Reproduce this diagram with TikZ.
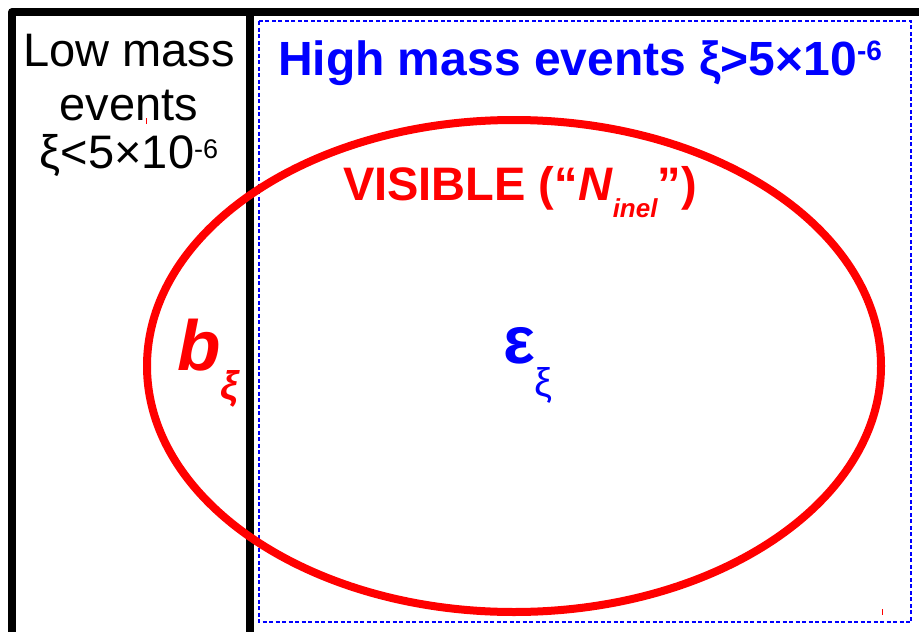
\documentclass[tikz,border=0pt]{standalone}
\usepackage{fontspec}
\setmainfont{Liberation Sans}
\definecolor{pblue}{RGB}{0,0,255}
\definecolor{pred}{RGB}{255,0,0}
\newcommand{\fsz}[1]{\fontsize{#1}{#1}\selectfont}
\begin{document}
\begin{tikzpicture}[x=1pt,y=-1pt,
  frame/.style={line width=8pt,line join=round,line cap=round,black},
  hbox/.style={draw=pblue,line width=1.2pt,dash pattern=on 4pt off 2.5pt},
  visible/.style={draw=pred,line width=8pt},
  lbl/.style={inner sep=0pt,outer sep=0pt}]
\useasboundingbox (0,0) rectangle (919,632);
\fill[white] (0,0) rectangle (919,632);
% frame
\draw[frame] (12,645) -- (12,12) -- (935,12);
\draw[frame] (250,12) -- (250,645);
% high mass region
\draw[hbox] (259,21) rectangle (911,622);
% visible ellipse
\draw[visible] (514,366) ellipse [x radius=367pt, y radius=246pt];
% tiny red marks
\draw[pred,line width=1pt] (146,118) -- (146,124);
\draw[pred,line width=1pt] (882,609) -- (882,615);
% low mass text
\node[lbl,anchor=base] (low1) at (129,66) {\fsz{47}Low mass};
\node[lbl,anchor=base] (low2) at (129,120) {\fsz{47}events};
\node[lbl,anchor=base] (low3) at (129,168) {\fsz{47}ξ<5×10\raisebox{10pt}{\fsz{27}-6}};
% high mass title
\node[lbl,anchor=base west,text=pblue] (high) at (278,75)
  {\fsz{48}\bfseries High mass events ξ>5×10\raisebox{15pt}{\fsz{28}\bfseries -6}};
% visible label
\node[lbl,anchor=base west,text=pred] (vis) at (343,200)
  {\fsz{47}\bfseries VISIBLE (“\textit{N}\raisebox{-17pt}{\fsz{26}\bfseries\itshape inel}”)};
% b_xi
\node[lbl,anchor=base west,text=pred] (b) at (177,370)
  {\fsz{71}\bfseries\itshape b\raisebox{-29pt}{\fsz{40}ξ}};
% epsilon_xi
\node[lbl,anchor=base west,text=pblue] (eps) at (503,363)
  {\fsz{67}\bfseries ε\raisebox{-33pt}{\fsz{40}\mdseries ξ}};
\end{tikzpicture}
\end{document}
